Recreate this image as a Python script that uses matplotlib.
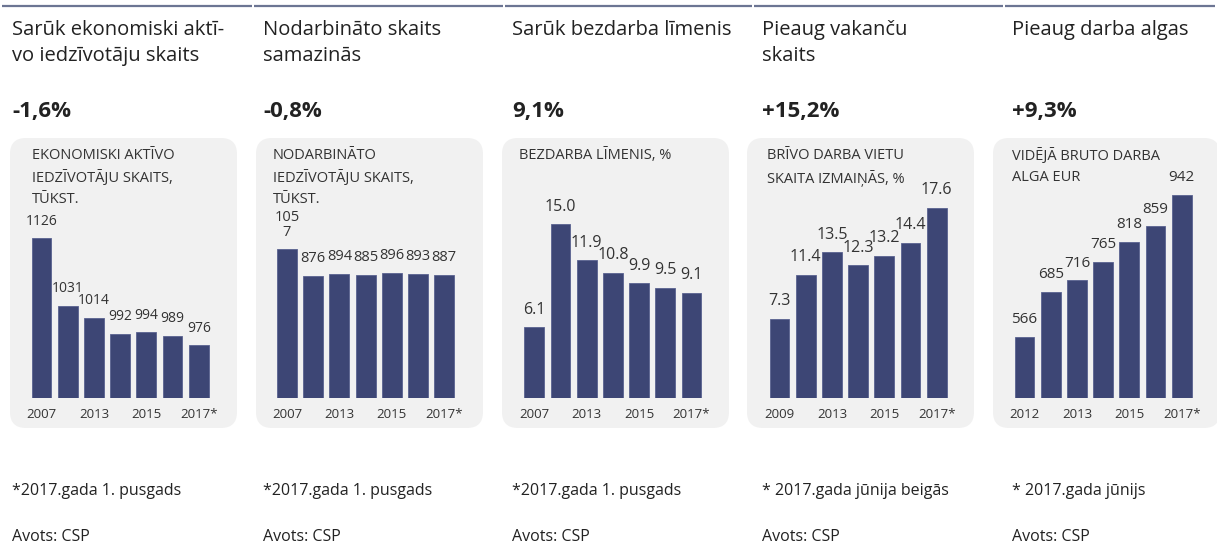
import matplotlib
matplotlib.use("Agg")
import matplotlib.pyplot as plt
from matplotlib.patches import FancyBboxPatch

plt.rcParams['font.family'] = ['Open Sans', 'DejaVu Sans']

W, H = 1217, 547

# data
titles = ["Sarūk ekonomiski aktī-\nvo iedzīvotāju skaits",
          "Nodarbināto skaits\nsamazinās",
          "Sarūk bezdarba līmenis",
          "Pieaug vakanču\nskaits",
          "Pieaug darba algas"]
changes = ["-1,6%", "-0,8%", "9,1%", "+15,2%", "+9,3%"]
box_labels = ["EKONOMISKI AKTĪVO\nIEDZĪVOTĀJU SKAITS,\nTŪKST.",
              "NODARBINĀTO\nIEDZĪVOTĀJU SKAITS,\nTŪKST.",
              "BEZDARBA LĪMENIS, %",
              "BRĪVO DARBA VIETU\nSKAITA IZMAIŅĀS, %",
              "VIDĒJĀ BRUTO DARBA\nALGA EUR"]
active = [1126, 1031, 1014, 992, 994, 989, 976]
employed = [1057, 876, 894, 885, 896, 893, 887]
unemployment = [6.1, 15.0, 11.9, 10.8, 9.9, 9.5, 9.1]
vacancies = [7.3, 11.4, 13.5, 12.3, 13.2, 14.4, 17.6]
wages = [566, 685, 716, 765, 818, 859, 942]
series = [active, employed, unemployment, vacancies, wages]
value_text = [
    ["1126", "1031", "1014", "992", "994", "989", "976"],
    ["105\n7", "876", "894", "885", "896", "893", "887"],
    ["6.1", "15.0", "11.9", "10.8", "9.9", "9.5", "9.1"],
    ["7.3", "11.4", "13.5", "12.3", "13.2", "14.4", "17.6"],
    ["566", "685", "716", "765", "818", "859", "942"],
]
tick_labels = [["2007", "2013", "2015", "2017*"]] * 3 + [["2009", "2013", "2015", "2017*"],
                                                        ["2012", "2013", "2015", "2017*"]]
tick_pos = [0, 2, 4, 6]
footnotes = ["*2017.gada 1. pusgads", "*2017.gada 1. pusgads", "*2017.gada 1. pusgads",
             "* 2017.gada jūnija beigās", "* 2017.gada jūnijs"]
source = "Avots: CSP"

# layout (pixels)
ylims = [(902, 1208), (50, 1528), (0, 18.84), (0, 20.2), (405, 982)]
val_size = [10, 10.5, 11.5, 11.5, 11]
box_x = [10, 256, 502, 747, 993]
text_x = [12, 263, 512, 762, 1012]
lab_x = [32, 273, 519, 767, 1012]
ax_left = [28.4, 273.9, 521.2, 766.4, 1011.4]
seg = [(2, 252), (254, 503), (505, 752), (754, 1003), (1005, 1215)]

bar_color = '#3d4675'
dark = '#222222'
grey = '#333333'

fig = plt.figure(figsize=(W / 100, H / 100), dpi=100)

# background layer in pixel coordinates
bg = fig.add_axes([0, 0, 1, 1], zorder=-1)
bg.set_xlim(0, W)
bg.set_ylim(H, 0)
bg.axis('off')

for a, b in seg:
    bg.plot([a, b], [6, 6], color='#6c7593', lw=1.6, solid_capstyle='butt')

for i in range(5):
    r = 16
    bg.add_patch(FancyBboxPatch((box_x[i] + r, 138 + r), 227 - 2 * r, 290 - 2 * r,
                                boxstyle="round,pad=%d,rounding_size=%d" % (r, r),
                                facecolor='#f1f1f1', edgecolor='none'))

    fig.text(text_x[i] / W, 1 - 20 / H, titles[i], fontsize=14.5, color=dark,
             va='top', ha='left', linespacing=1.4)
    fig.text(text_x[i] / W, 1 - 111 / H, changes[i], fontsize=16, fontweight='bold',
             color=dark, va='center', ha='left')
    fig.text(lab_x[i] / W, 1 - 148 / H, box_labels[i], fontsize=10.5, color=grey,
             va='top', ha='left', linespacing=1.55)
    fig.text(text_x[i] / W, 1 - 491 / H, footnotes[i], fontsize=11.5, color=dark,
             va='center', ha='left')
    fig.text(text_x[i] / W, 1 - 537 / H, source, fontsize=11.5, color=dark,
             va='center', ha='left')

    ax = fig.add_axes([ax_left[i] / W, 1 - 398 / H, 183.4 / W, 218 / H])
    ax.patch.set_alpha(0)
    vals = series[i]
    xs = list(range(len(vals)))
    ax.bar(xs, vals, width=0.76, color=bar_color, edgecolor='#5a6290', linewidth=0.6)
    ax.set_xlim(-0.5, 6.5)
    ax.set_ylim(*ylims[i])
    for x, v, t in zip(xs, vals, value_text[i]):
        ax.annotate(t, (x, v), xytext=(0, 7), textcoords='offset points',
                    ha='center', va='bottom', fontsize=val_size[i], color=grey,
                    linespacing=1.0, annotation_clip=False)
    ax.set_xticks(tick_pos)
    ax.set_xticklabels(tick_labels[i], fontsize=9.5, color=grey)
    ax.tick_params(axis='x', length=0, pad=7)
    ax.set_yticks([])
    for s in ax.spines.values():
        s.set_visible(False)

fig.savefig("out.png", dpi=100)
